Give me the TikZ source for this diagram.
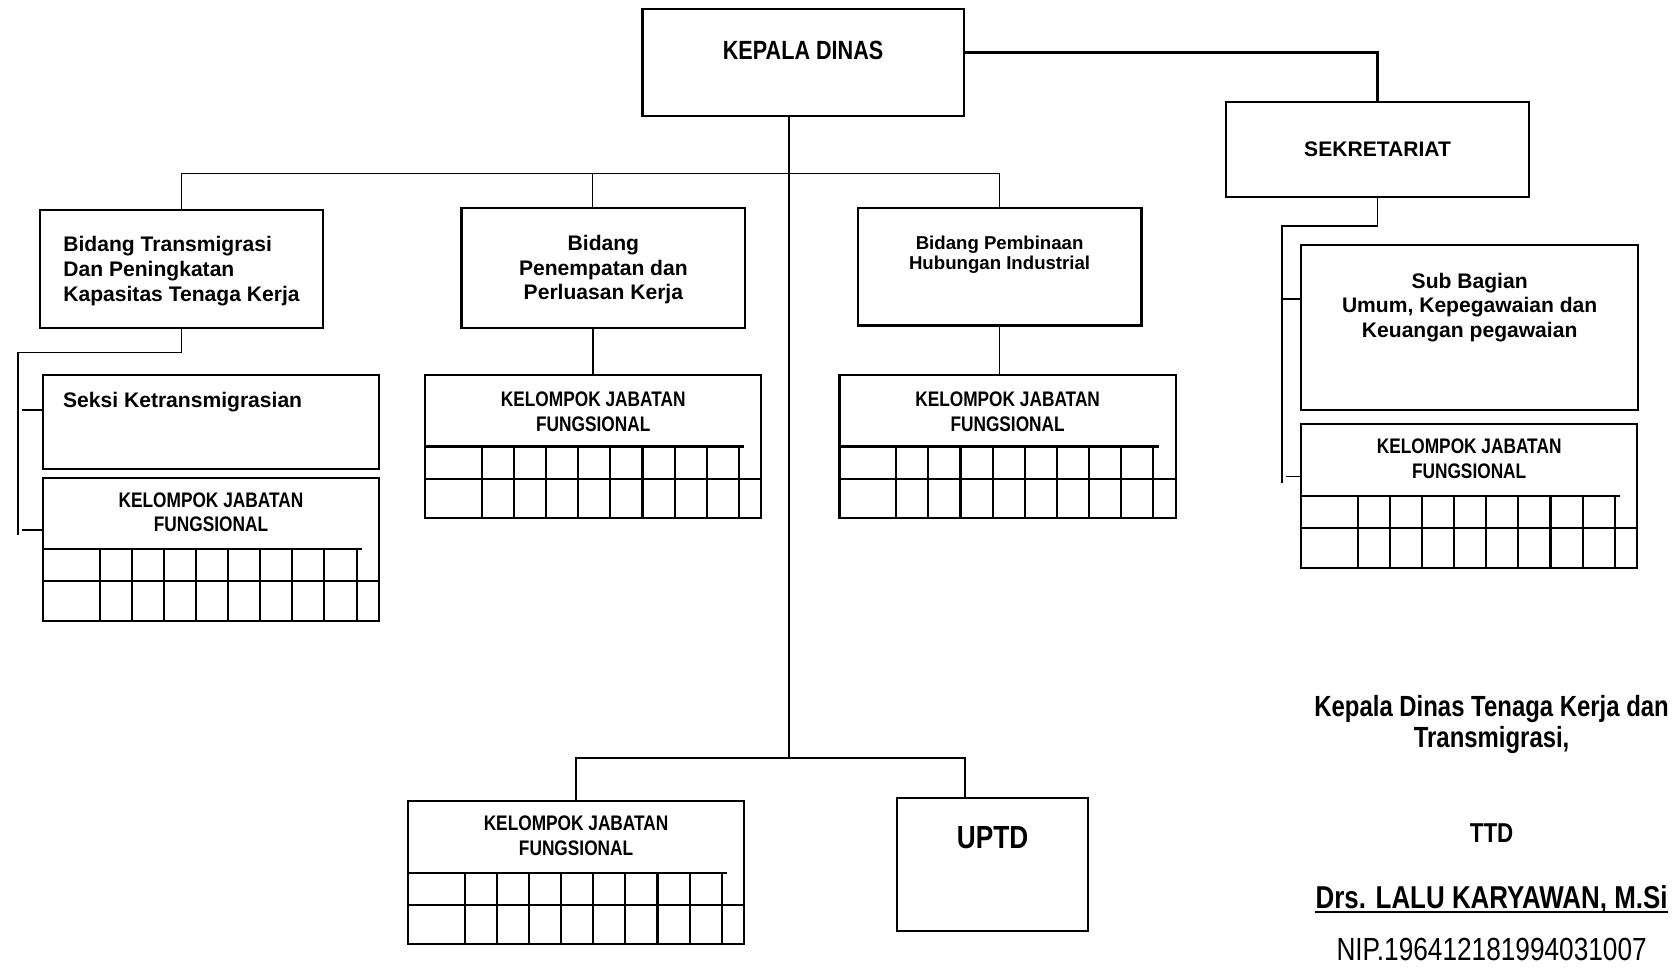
\documentclass[tikz,border=0pt]{standalone}
\usepackage{fontspec}
\setmainfont{Liberation Sans}
\newfontfamily\narrowfont[FakeStretch=0.82]{Liberation Sans}
\usetikzlibrary{positioning}

% cells under a Kelompok Jabatan Fungsional box
\newcommand{\jfgrid}[1]{%
  \begin{scope}[shift={(#1.north west)}]
    \draw[gridline] (0,67) -- (298,67);
    \draw[gridline] (0,97) -- (314,97);
    \foreach \k in {0,...,8}
      \draw[gridline] (53+30*\k,67) -- (53+30*\k,134);
  \end{scope}}

\begin{document}
\begin{tikzpicture}[
  x=0.2mm, y=-0.2mm,
  font=\fontsize{11.2}{13.1}\selectfont\bfseries,
  box/.style    ={draw, line width=1.1pt, anchor=north west, inner sep=0pt, outer sep=0pt, align=center},
  jfbox/.style  ={box, minimum width=62.8mm, minimum height=26.8mm},
  jftext/.style ={font=\narrowfont\fontsize{11.2}{13.1}\selectfont\bfseries, align=center, inner sep=0pt, outer sep=0pt},
  boxtext/.style={align=center, inner sep=0pt, outer sep=0pt},
  gridline/.style={line width=1.1pt},
  link/.style   ={line width=0.8pt},
  boldlink/.style={line width=2pt},
  sign/.style   ={font=\narrowfont\fontsize{15.5}{16.5}\selectfont\bfseries, align=center, inner sep=0pt, anchor=north},
]
\useasboundingbox (0,0) rectangle (1568,904);

% -- pimpinan --------------------------------------------------------
\node[box, minimum width=60mm, minimum height=20mm] (kadis) at (600,8) {};
\node[boxtext, font=\narrowfont\fontsize{14}{16}\selectfont\bfseries, below=6mm of kadis.north] (kadis-t) {KEPALA DINAS};

\node[box, minimum width=56.6mm, minimum height=17.8mm] (sekr) at (1145,95) {SEKRETARIAT};

% -- bidang ----------------------------------------------------------
\node[box, minimum width=53mm, minimum height=22mm, align=left, text depth=0pt] (bidA) at (37,196)
  {Bidang Transmigrasi\\Dan Peningkatan\\Kapasitas Tenaga Kerja};
\node[box, minimum width=53mm, minimum height=22.4mm, text depth=0pt] (bidB) at (431,194)
  {Bidang\\Penempatan dan\\Perluasan Kerja};
\node[box, minimum width=53mm, minimum height=22mm] (bidC) at (801,194) {};
\node[boxtext, font=\fontsize{9.9}{10.8}\selectfont\bfseries, below=5.2mm of bidC.north] (bidC-t)
  {Bidang Pembinaan\\Hubungan Industrial};

% -- seksi and fungsional ---------------------------------------------
\node[box, minimum width=62.8mm, minimum height=17.6mm] (seksi) at (40,350) {};
\node[boxtext, anchor=north west, below right=3.2mm and 3.8mm of seksi.north west] (seksi-t) {Seksi Ketransmigrasian};

\node[jfbox] (kjfA) at (40,446) {};
\node[jftext, below=2.8mm of kjfA.north] (kjfA-t) {KELOMPOK JABATAN\\FUNGSIONAL};
\jfgrid{kjfA}

\node[jfbox] (kjfB) at (397,350) {};
\node[jftext, below=3.2mm of kjfB.north] (kjfB-t) {KELOMPOK JABATAN\\FUNGSIONAL};
\jfgrid{kjfB}

\node[jfbox] (kjfC) at (784,350) {};
\node[jftext, below=3.2mm of kjfC.north] (kjfC-t) {KELOMPOK JABATAN\\FUNGSIONAL};
\jfgrid{kjfC}

% -- sekretariat side ------------------------------------------------
\node[box, minimum width=63mm, minimum height=30.8mm] (subbag) at (1215,229) {};
\node[boxtext, below=5.2mm of subbag.north] (subbag-t) {Sub Bagian\\Umum, Kepegawaian dan\\Keuangan pegawaian};

\node[jfbox] (kjfD) at (1215,396) {};
\node[jftext, below=2.8mm of kjfD.north] (kjfD-t) {KELOMPOK JABATAN\\FUNGSIONAL};
\jfgrid{kjfD}

% -- bottom row ------------------------------------------------------
\node[jfbox] (kjfE) at (381,748) {};
\node[jftext, below=2.8mm of kjfE.north] (kjfE-t) {KELOMPOK JABATAN\\FUNGSIONAL};
\jfgrid{kjfE}

\node[box, minimum width=35.6mm, minimum height=24.8mm] (uptd) at (838,745) {};
\node[boxtext, font=\narrowfont\fontsize{17}{19}\selectfont\bfseries, below=5.4mm of uptd.north] (uptd-t) {UPTD};

% -- lines -----------------------------------------------------------
\coordinate (bus)  at (737,162);
\coordinate (fork) at (737,708);
\coordinate (railA) at (17,329);
\coordinate (railA-end) at (17,500);
\coordinate (railB) at (1197,211);
\coordinate (railB-end) at (1197,451);

\draw[boldlink] ([yshift=1.8mm]kadis.east) -| (sekr.north);
\draw[link] (kadis.south -| bus) -- (fork);
\draw[link] (bidA.north) |- (bus) -| (bidC.north);
\draw[link] ([xshift=-2mm]bidB.north) |- (bus);
\draw[link] (bidB.south -| kjfB.north) -- (kjfB.north);
\draw[link] (bidC.south) -- (bidC.south |- kjfC.north);
\draw[link] (kjfE.north) |- (fork) -| ([xshift=-5.2mm]uptd.north);

\draw[link] (bidA.south) |- (railA) -- (railA-end);
\draw[link] ([yshift=2.2mm]seksi.west) -- ++(-3.8mm,0);
\draw[link] ([yshift=3.6mm]kjfA.west) -- ++(-3.8mm,0);

\draw[link] (sekr.south) |- (railB) -- (railB-end);
\draw[link] ([yshift=5.4mm]subbag.west) -- ++(-3.4mm,0);
\draw[link] ([yshift=3.6mm]kjfD.west) -- ++(-2.8mm,0);

% -- tanda tangan ----------------------------------------------------
\node[sign] (jabatan) at (1393,649) {Kepala Dinas Tenaga Kerja dan\\Transmigrasi,};
\node[sign, font=\narrowfont\fontsize{14.5}{16}\selectfont\bfseries] (ttd) at (1393,769) {TTD};
\node[sign, font=\narrowfont\fontsize{16.8}{19}\selectfont\bfseries] (nama) at (1393,827) {Drs. LALU KARYAWAN, M.Si};
\draw[line width=1.1pt] ([yshift=-1.8pt]nama.base west) -- ([yshift=-1.8pt]nama.base east);
\node[sign, font=\narrowfont\fontsize{17}{19}\selectfont\mdseries] (nip) at (1393,876) {NIP.196412181994031007};

\end{tikzpicture}
\end{document}
